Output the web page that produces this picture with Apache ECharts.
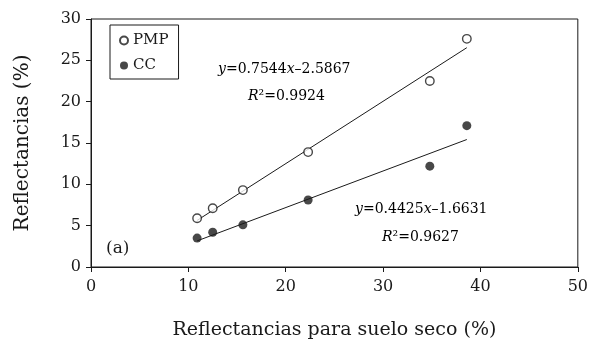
<!DOCTYPE html>
<html><head><meta charset="utf-8">
<script src="https://cdn.jsdelivr.net/npm/echarts@6/dist/echarts.min.js"></script>
<style>html,body{margin:0;padding:0;background:#fff}#c{width:591px;height:345px}</style>
</head><body><div id="c"></div>
<script>
const xTicks = [0, 10, 20, 30, 40, 50];
const yTicks = [0, 5, 10, 15, 20, 25, 30];
const suelo = [10.9, 12.5, 15.6, 22.3, 34.8, 38.6];
const pmp = [5.9, 7.1, 9.3, 13.9, 22.5, 27.6];
const cc = [3.5, 4.2, 5.1, 8.1, 12.2, 17.1];
const pmpFit = [[10.9, 5.64], [38.6, 26.53]];
const ccFit = [[10.9, 3.16], [38.6, 15.42]];
const pmpEq = ['y', '=0.7544', 'x', '–2.5867', 'R', '²=0.9924'];
const ccEq = ['y', '=0.4425', 'x', '–1.6631', 'R', '²=0.9627'];

const font = 'DejaVu Serif';
const ink = '#1a1a1a';
const chart = echarts.init(document.getElementById('c'), null, {renderer: 'canvas'});
const pts = (ys) => suelo.map((x, i) => [x, ys[i]]);
const rich = {i: {fontStyle: 'italic', fontFamily: font, fontSize: 14, color: ink}, n: {fontFamily: font, fontSize: 14, color: ink}};
function eqText(e) { return '{i|' + e[0] + '}{n|' + e[1] + '}{i|' + e[2] + '}{n|' + e[3] + '}'; }
function r2Text(e) { return '{i|' + e[4] + '}{n|' + e[5] + '}'; }
chart.setOption({
  animation: false,
  grid: {left: 91, right: 10, top: 19, bottom: 76, show: true, borderColor: ink, borderWidth: 1},
  xAxis: {
    type: 'value', min: 0, max: 50, interval: 10,
    name: 'Reflectancias para suelo seco (%)', nameLocation: 'middle', nameGap: 54,
    nameTextStyle: {fontFamily: font, fontSize: 19, color: ink},
    axisLine: {show: true, lineStyle: {color: ink, width: 1}},
    axisTick: {show: true, inside: false, length: 5, lineStyle: {color: ink}},
    axisLabel: {fontFamily: font, fontSize: 16, color: ink, margin: 12},
    splitLine: {show: false}
  },
  yAxis: {
    type: 'value', min: 0, max: 30, interval: 5,
    name: 'Reflectancias (%)', nameLocation: 'middle', nameGap: 58,
    nameTextStyle: {fontFamily: font, fontSize: 20, color: ink},
    axisLine: {show: true, lineStyle: {color: ink, width: 1}},
    axisTick: {show: true, inside: false, length: 5, lineStyle: {color: ink}},
    axisLabel: {fontFamily: font, fontSize: 16, color: ink, margin: 10},
    splitLine: {show: false}
  },
  legend: {
    left: 110, top: 25, orient: 'vertical', itemGap: 10,
    padding: [8, 10, 6, 9],
    borderColor: ink, borderWidth: 1, backgroundColor: '#fff',
    itemWidth: 8, itemHeight: 8,
    textStyle: {fontFamily: font, fontSize: 15, color: ink},
    data: [{name: 'PMP', icon: 'circle'}, {name: 'CC', icon: 'circle'}]
  },
  series: [
    {name: 'PMP fit', type: 'line', data: pmpFit, symbol: 'none', lineStyle: {color: ink, width: 1}, silent: true, z: 1},
    {name: 'CC fit', type: 'line', data: ccFit, symbol: 'none', lineStyle: {color: ink, width: 1}, silent: true, z: 1},
    {name: 'PMP', type: 'scatter', data: pts(pmp), symbol: 'circle', symbolSize: 8.5,
     itemStyle: {color: '#fff', borderColor: ink, borderWidth: 1.4}, z: 3},
    {name: 'CC', type: 'scatter', data: pts(cc), symbol: 'circle', symbolSize: 9,
     itemStyle: {color: ink, borderColor: ink, borderWidth: 0}, z: 3}
  ],
  graphic: [
    {type: 'text', left: 218, top: 62, style: {text: eqText(pmpEq), rich: rich}},
    {type: 'text', left: 248, top: 89, style: {text: r2Text(pmpEq), rich: rich}},
    {type: 'text', left: 355, top: 202, style: {text: eqText(ccEq), rich: rich}},
    {type: 'text', left: 382, top: 230, style: {text: r2Text(ccEq), rich: rich}},
    {type: 'text', left: 106, top: 240, style: {text: '(a)', font: '17px "DejaVu Serif"', fill: ink}}
  ]
});
</script></body></html>
